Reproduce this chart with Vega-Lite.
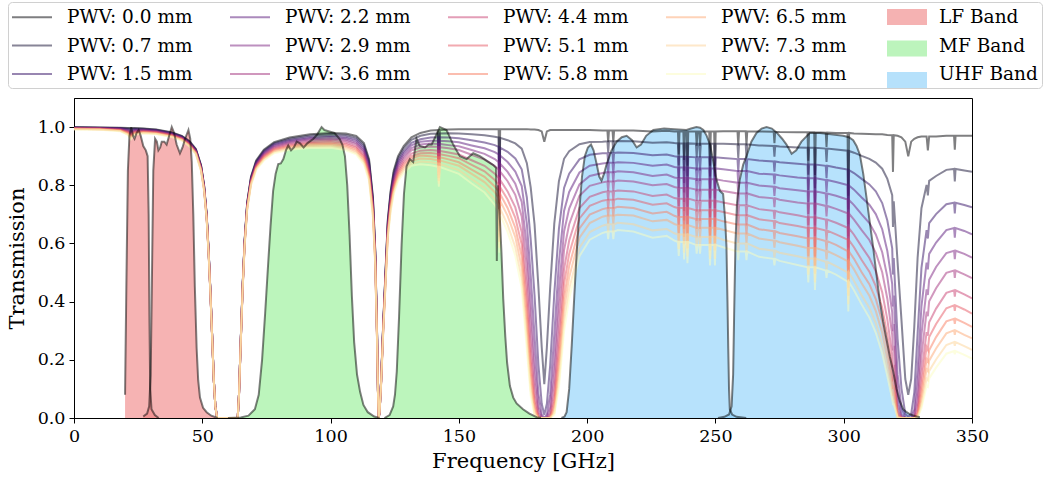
{
"$schema": "https://vega.github.io/schema/vega-lite/v6.json",
"width": 898, "height": 320,
"autosize": "none",
"padding": {"left": 74, "top": 98, "right": 71, "bottom": 62},
"config": {
  "view": {"stroke": "#000", "strokeWidth": 1},
  "font": "DejaVu Serif",
  "axis": {"labelFont": "DejaVu Serif", "titleFont": "DejaVu Serif", "labelFontSize": 17.5, "titleFontSize": 21, "titleFontWeight": "normal", "labelColor": "#000", "titleColor": "#000", "domainColor": "#000", "tickColor": "#000", "tickSize": 5, "grid": false, "labelPadding": 4, "labelFlush": false}
},
"datasets": {
"atm": [
{"f":0,"a":1,"b":0.999,"c":0.999,"d":0.998,"e":0.997,"g":0.996,"h":0.996,"i":0.995,"j":0.994,"k":0.994,"l":0.993,"m":0.992},
{"f":10,"a":0.999,"b":0.998,"c":0.998,"d":0.997,"e":0.996,"g":0.995,"h":0.995,"i":0.994,"j":0.993,"k":0.993,"l":0.992,"m":0.991},
{"f":18,"a":0.998,"b":0.997,"c":0.996,"d":0.995,"e":0.994,"g":0.993,"h":0.991,"i":0.99,"j":0.989,"k":0.988,"l":0.987,"m":0.986},
{"f":21,"a":0.997,"b":0.995,"c":0.993,"d":0.99,"e":0.988,"g":0.986,"h":0.984,"i":0.982,"j":0.98,"k":0.978,"l":0.975,"m":0.973},
{"f":22.2,"a":0.997,"b":0.994,"c":0.99,"d":0.986,"e":0.983,"g":0.979,"h":0.975,"i":0.972,"j":0.968,"k":0.965,"l":0.961,"m":0.957},
{"f":23.5,"a":0.997,"b":0.995,"c":0.993,"d":0.99,"e":0.988,"g":0.986,"h":0.984,"i":0.982,"j":0.98,"k":0.978,"l":0.975,"m":0.973},
{"f":27,"a":0.995,"b":0.994,"c":0.992,"d":0.991,"e":0.989,"g":0.988,"h":0.986,"i":0.985,"j":0.983,"k":0.982,"l":0.98,"m":0.979},
{"f":32,"a":0.992,"b":0.991,"c":0.989,"d":0.988,"e":0.986,"g":0.985,"h":0.983,"i":0.982,"j":0.98,"k":0.979,"l":0.977,"m":0.976},
{"f":38,"a":0.982,"b":0.981,"c":0.979,"d":0.978,"e":0.976,"g":0.975,"h":0.973,"i":0.972,"j":0.971,"k":0.969,"l":0.968,"m":0.966},
{"f":42,"a":0.97,"b":0.969,"c":0.967,"d":0.966,"e":0.964,"g":0.963,"h":0.961,"i":0.96,"j":0.959,"k":0.957,"l":0.956,"m":0.954},
{"f":45,"a":0.952,"b":0.95,"c":0.948,"d":0.947,"e":0.945,"g":0.943,"h":0.942,"i":0.94,"j":0.938,"k":0.937,"l":0.935,"m":0.933},
{"f":47.5,"a":0.925,"b":0.923,"c":0.922,"d":0.92,"e":0.918,"g":0.917,"h":0.915,"i":0.913,"j":0.912,"k":0.91,"l":0.908,"m":0.907},
{"f":49.5,"a":0.87,"b":0.868,"c":0.866,"d":0.864,"e":0.862,"g":0.861,"h":0.859,"i":0.857,"j":0.855,"k":0.853,"l":0.851,"m":0.849},
{"f":50.7,"a":0.8,"b":0.798,"c":0.796,"d":0.795,"e":0.793,"g":0.791,"h":0.789,"i":0.788,"j":0.786,"k":0.784,"l":0.782,"m":0.781},
{"f":51.7,"a":0.7,"b":0.699,"c":0.697,"d":0.695,"e":0.694,"g":0.692,"h":0.691,"i":0.689,"j":0.688,"k":0.686,"l":0.685,"m":0.683},
{"f":52.5,"a":0.57,"b":0.569,"c":0.567,"d":0.566,"e":0.565,"g":0.564,"h":0.562,"i":0.561,"j":0.56,"k":0.559,"l":0.558,"m":0.556},
{"f":53.2,"a":0.43,"b":0.429,"c":0.428,"d":0.427,"e":0.426,"g":0.425,"h":0.424,"i":0.423,"j":0.422,"k":0.422,"l":0.421,"m":0.42},
{"f":53.9,"a":0.27,"b":0.269,"c":0.269,"d":0.268,"e":0.268,"g":0.267,"h":0.266,"i":0.266,"j":0.265,"k":0.265,"l":0.264,"m":0.264},
{"f":54.5,"a":0.13,"b":0.13,"c":0.129,"d":0.129,"e":0.129,"g":0.129,"h":0.128,"i":0.128,"j":0.128,"k":0.127,"l":0.127,"m":0.127},
{"f":55.1,"a":0.04,"b":0.04,"c":0.04,"d":0.04,"e":0.04,"g":0.04,"h":0.039,"i":0.039,"j":0.039,"k":0.039,"l":0.039,"m":0.039},
{"f":55.8,"a":0,"b":0,"c":0,"d":0,"e":0,"g":0,"h":0,"i":0,"j":0,"k":0,"l":0,"m":0},
{"f":63.8,"a":0,"b":0,"c":0,"d":0,"e":0,"g":0,"h":0,"i":0,"j":0,"k":0,"l":0,"m":0},
{"f":64.3,"a":0.08,"b":0.08,"c":0.08,"d":0.079,"e":0.079,"g":0.079,"h":0.079,"i":0.078,"j":0.078,"k":0.078,"l":0.078,"m":0.077},
{"f":65,"a":0.27,"b":0.269,"c":0.268,"d":0.268,"e":0.267,"g":0.266,"h":0.265,"i":0.264,"j":0.264,"k":0.263,"l":0.262,"m":0.261},
{"f":65.7,"a":0.45,"b":0.449,"c":0.447,"d":0.446,"e":0.445,"g":0.444,"h":0.442,"i":0.441,"j":0.44,"k":0.438,"l":0.437,"m":0.436},
{"f":66.5,"a":0.61,"b":0.608,"c":0.606,"d":0.605,"e":0.603,"g":0.601,"h":0.599,"i":0.598,"j":0.596,"k":0.594,"l":0.592,"m":0.59},
{"f":67.5,"a":0.74,"b":0.738,"c":0.736,"d":0.733,"e":0.731,"g":0.729,"h":0.727,"i":0.725,"j":0.723,"k":0.721,"l":0.718,"m":0.716},
{"f":69,"a":0.83,"b":0.827,"c":0.824,"d":0.822,"e":0.819,"g":0.817,"h":0.814,"i":0.811,"j":0.809,"k":0.806,"l":0.803,"m":0.8},
{"f":71,"a":0.885,"b":0.882,"c":0.879,"d":0.876,"e":0.873,"g":0.871,"h":0.867,"i":0.865,"j":0.862,"k":0.859,"l":0.856,"m":0.853},
{"f":74,"a":0.922,"b":0.919,"c":0.915,"d":0.912,"e":0.909,"g":0.905,"h":0.902,"i":0.899,"j":0.895,"k":0.892,"l":0.888,"m":0.885},
{"f":78,"a":0.948,"b":0.945,"c":0.941,"d":0.938,"e":0.934,"g":0.931,"h":0.927,"i":0.924,"j":0.921,"k":0.917,"l":0.914,"m":0.91},
{"f":84,"a":0.964,"b":0.96,"c":0.956,"d":0.952,"e":0.949,"g":0.945,"h":0.941,"i":0.937,"j":0.933,"k":0.93,"l":0.925,"m":0.922},
{"f":92,"a":0.975,"b":0.971,"c":0.966,"d":0.962,"e":0.958,"g":0.954,"h":0.949,"i":0.945,"j":0.941,"k":0.937,"l":0.932,"m":0.928},
{"f":100,"a":0.98,"b":0.976,"c":0.97,"d":0.966,"e":0.961,"g":0.957,"h":0.952,"i":0.947,"j":0.943,"k":0.938,"l":0.933,"m":0.929},
{"f":106,"a":0.978,"b":0.973,"c":0.967,"d":0.962,"e":0.957,"g":0.952,"h":0.946,"i":0.941,"j":0.936,"k":0.931,"l":0.925,"m":0.92},
{"f":110,"a":0.97,"b":0.964,"c":0.958,"d":0.952,"e":0.946,"g":0.941,"h":0.934,"i":0.929,"j":0.923,"k":0.917,"l":0.911,"m":0.906},
{"f":113,"a":0.945,"b":0.938,"c":0.931,"d":0.924,"e":0.918,"g":0.912,"h":0.904,"i":0.898,"j":0.892,"k":0.885,"l":0.879,"m":0.872},
{"f":115,"a":0.89,"b":0.883,"c":0.876,"d":0.869,"e":0.862,"g":0.855,"h":0.848,"i":0.841,"j":0.835,"k":0.829,"l":0.821,"m":0.815},
{"f":116.5,"a":0.76,"b":0.754,"c":0.746,"d":0.74,"e":0.734,"g":0.728,"h":0.721,"i":0.715,"j":0.709,"k":0.703,"l":0.696,"m":0.69},
{"f":117.4,"a":0.58,"b":0.575,"c":0.57,"d":0.565,"e":0.56,"g":0.556,"h":0.55,"i":0.546,"j":0.541,"k":0.537,"l":0.531,"m":0.527},
{"f":118.1,"a":0.3,"b":0.298,"c":0.295,"d":0.292,"e":0.29,"g":0.287,"h":0.285,"i":0.282,"j":0.28,"k":0.277,"l":0.275,"m":0.272},
{"f":118.5,"a":0.08,"b":0.079,"c":0.079,"d":0.078,"e":0.077,"g":0.077,"h":0.076,"i":0.075,"j":0.075,"k":0.074,"l":0.073,"m":0.073},
{"f":118.75,"a":0,"b":0,"c":0,"d":0,"e":0,"g":0,"h":0,"i":0,"j":0,"k":0,"l":0,"m":0},
{"f":119.1,"a":0.02,"b":0.02,"c":0.02,"d":0.02,"e":0.02,"g":0.02,"h":0.02,"i":0.02,"j":0.02,"k":0.02,"l":0.02,"m":0.02},
{"f":119.7,"a":0.13,"b":0.129,"c":0.128,"d":0.127,"e":0.126,"g":0.125,"h":0.123,"i":0.122,"j":0.121,"k":0.12,"l":0.119,"m":0.118},
{"f":120.5,"a":0.32,"b":0.317,"c":0.314,"d":0.312,"e":0.309,"g":0.307,"h":0.304,"i":0.301,"j":0.299,"k":0.296,"l":0.293,"m":0.291},
{"f":121.3,"a":0.48,"b":0.476,"c":0.471,"d":0.468,"e":0.464,"g":0.46,"h":0.456,"i":0.452,"j":0.448,"k":0.444,"l":0.44,"m":0.436},
{"f":122.3,"a":0.68,"b":0.674,"c":0.668,"d":0.662,"e":0.657,"g":0.651,"h":0.645,"i":0.64,"j":0.634,"k":0.629,"l":0.623,"m":0.617},
{"f":123.4,"a":0.78,"b":0.774,"c":0.766,"d":0.76,"e":0.753,"g":0.747,"h":0.74,"i":0.734,"j":0.728,"k":0.722,"l":0.715,"m":0.708},
{"f":124.6,"a":0.85,"b":0.843,"c":0.834,"d":0.827,"e":0.82,"g":0.813,"h":0.804,"i":0.797,"j":0.791,"k":0.784,"l":0.776,"m":0.769},
{"f":126.3,"a":0.9,"b":0.892,"c":0.883,"d":0.876,"e":0.868,"g":0.86,"h":0.851,"i":0.844,"j":0.837,"k":0.83,"l":0.822,"m":0.815},
{"f":128.5,"a":0.935,"b":0.927,"c":0.917,"d":0.909,"e":0.9,"g":0.892,"h":0.883,"i":0.875,"j":0.867,"k":0.859,"l":0.851,"m":0.842},
{"f":131.5,"a":0.965,"b":0.956,"c":0.946,"d":0.937,"e":0.928,"g":0.92,"h":0.909,"i":0.9,"j":0.893,"k":0.884,"l":0.874,"m":0.867},
{"f":135,"a":0.98,"b":0.97,"c":0.958,"d":0.95,"e":0.94,"g":0.93,"h":0.919,"i":0.91,"j":0.902,"k":0.892,"l":0.882,"m":0.872},
{"f":139,"a":0.988,"b":0.977,"c":0.964,"d":0.953,"e":0.944,"g":0.933,"h":0.921,"i":0.911,"j":0.9,"k":0.89,"l":0.879,"m":0.869},
{"f":141.8,"a":0.99,"b":0.978,"c":0.965,"d":0.953,"e":0.942,"g":0.932,"h":0.919,"i":0.908,"j":0.897,"k":0.886,"l":0.875,"m":0.864},
{"f":142.2,"a":0.911,"b":0.9,"c":0.888,"d":0.877,"e":0.867,"g":0.857,"h":0.845,"i":0.835,"j":0.825,"k":0.815,"l":0.805,"m":0.795},
{"f":142.6,"a":0.99,"b":0.978,"c":0.965,"d":0.953,"e":0.942,"g":0.931,"h":0.918,"i":0.907,"j":0.896,"k":0.885,"l":0.874,"m":0.863},
{"f":146,"a":0.992,"b":0.979,"c":0.964,"d":0.951,"e":0.938,"g":0.927,"h":0.913,"i":0.901,"j":0.889,"k":0.877,"l":0.863,"m":0.852},
{"f":150,"a":0.993,"b":0.978,"c":0.962,"d":0.948,"e":0.934,"g":0.921,"h":0.906,"i":0.893,"j":0.879,"k":0.867,"l":0.852,"m":0.839},
{"f":155,"a":0.993,"b":0.975,"c":0.955,"d":0.937,"e":0.921,"g":0.905,"h":0.886,"i":0.87,"j":0.854,"k":0.839,"l":0.821,"m":0.806},
{"f":160,"a":0.993,"b":0.972,"c":0.947,"d":0.927,"e":0.908,"g":0.888,"h":0.867,"i":0.848,"j":0.829,"k":0.811,"l":0.791,"m":0.775},
{"f":164,"a":0.993,"b":0.967,"c":0.938,"d":0.914,"e":0.89,"g":0.866,"h":0.84,"i":0.818,"j":0.796,"k":0.776,"l":0.753,"m":0.733},
{"f":165.5,"a":0.993,"b":0.964,"c":0.932,"d":0.906,"e":0.879,"g":0.854,"h":0.825,"i":0.801,"j":0.779,"k":0.756,"l":0.731,"m":0.71},
{"f":165.8,"a":0.794,"b":0.771,"c":0.746,"d":0.725,"e":0.703,"g":0.683,"h":0.66,"i":0.641,"j":0.623,"k":0.605,"l":0.585,"m":0.568},
{"f":166.1,"a":0.993,"b":0.963,"c":0.929,"d":0.902,"e":0.874,"g":0.847,"h":0.818,"i":0.793,"j":0.77,"k":0.746,"l":0.72,"m":0.698},
{"f":169,"a":0.993,"b":0.955,"c":0.915,"d":0.88,"e":0.846,"g":0.814,"h":0.779,"i":0.751,"j":0.722,"k":0.695,"l":0.664,"m":0.64},
{"f":172,"a":0.993,"b":0.944,"c":0.892,"d":0.847,"e":0.805,"g":0.767,"h":0.724,"i":0.688,"j":0.654,"k":0.622,"l":0.587,"m":0.558},
{"f":174.5,"a":0.993,"b":0.926,"c":0.855,"d":0.797,"e":0.743,"g":0.693,"h":0.639,"i":0.596,"j":0.556,"k":0.518,"l":0.479,"m":0.446},
{"f":176.5,"a":0.993,"b":0.876,"c":0.758,"d":0.668,"e":0.589,"g":0.519,"h":0.45,"i":0.396,"j":0.35,"k":0.308,"l":0.267,"m":0.235},
{"f":178,"a":0.992,"b":0.793,"c":0.614,"d":0.491,"e":0.392,"g":0.314,"h":0.243,"i":0.194,"j":0.155,"k":0.124,"l":0.096,"m":0.076},
{"f":179.5,"a":0.992,"b":0.666,"c":0.422,"d":0.283,"e":0.19,"g":0.128,"h":0.08,"i":0.055,"j":0.037,"k":0.025,"l":0.015,"m":0.01},
{"f":181,"a":0.99,"b":0.452,"c":0.184,"d":0.084,"e":0.039,"g":0.018,"h":0.007,"i":0.003,"j":0.001,"k":0.001,"l":0,"m":0},
{"f":182.3,"a":0.985,"b":0.243,"c":0.049,"d":0.012,"e":0.003,"g":0.001,"h":0,"i":0,"j":0,"k":0,"l":0,"m":0},
{"f":183.3,"a":0.95,"b":0.116,"c":0.011,"d":0.001,"e":0,"g":0,"h":0,"i":0,"j":0,"k":0,"l":0,"m":0},
{"f":184.3,"a":0.985,"b":0.243,"c":0.049,"d":0.012,"e":0.003,"g":0.001,"h":0,"i":0,"j":0,"k":0,"l":0,"m":0},
{"f":185.6,"a":0.99,"b":0.449,"c":0.182,"d":0.082,"e":0.037,"g":0.017,"h":0.007,"i":0.003,"j":0.001,"k":0.001,"l":0,"m":0},
{"f":187.2,"a":0.99,"b":0.669,"c":0.428,"d":0.289,"e":0.195,"g":0.132,"h":0.084,"i":0.057,"j":0.039,"k":0.026,"l":0.017,"m":0.011},
{"f":189,"a":0.99,"b":0.814,"c":0.65,"d":0.535,"e":0.44,"g":0.361,"h":0.289,"i":0.238,"j":0.195,"k":0.16,"l":0.128,"m":0.105},
{"f":191,"a":0.99,"b":0.891,"c":0.791,"d":0.712,"e":0.641,"g":0.577,"h":0.512,"i":0.461,"j":0.414,"k":0.374,"l":0.331,"m":0.298},
{"f":193,"a":0.99,"b":0.917,"c":0.84,"d":0.777,"e":0.72,"g":0.666,"h":0.61,"i":0.565,"j":0.523,"k":0.484,"l":0.444,"m":0.411},
{"f":197,"a":0.99,"b":0.941,"c":0.889,"d":0.844,"e":0.803,"g":0.764,"h":0.722,"i":0.686,"j":0.652,"k":0.62,"l":0.585,"m":0.556},
{"f":201,"a":0.99,"b":0.949,"c":0.905,"d":0.867,"e":0.832,"g":0.798,"h":0.76,"i":0.729,"j":0.699,"k":0.67,"l":0.639,"m":0.613},
{"f":206,"a":0.988,"b":0.95,"c":0.91,"d":0.875,"e":0.842,"g":0.81,"h":0.776,"i":0.747,"j":0.718,"k":0.692,"l":0.661,"m":0.636},
{"f":207.9,"a":0.988,"b":0.951,"c":0.911,"d":0.877,"e":0.845,"g":0.813,"h":0.779,"i":0.75,"j":0.722,"k":0.696,"l":0.666,"m":0.641},
{"f":208.2,"a":0.948,"b":0.913,"c":0.875,"d":0.842,"e":0.811,"g":0.78,"h":0.748,"i":0.72,"j":0.693,"k":0.668,"l":0.639,"m":0.615},
{"f":208.5,"a":0.988,"b":0.951,"c":0.911,"d":0.877,"e":0.845,"g":0.813,"h":0.779,"i":0.75,"j":0.722,"k":0.696,"l":0.666,"m":0.641},
{"f":209.9,"a":0.988,"b":0.951,"c":0.911,"d":0.877,"e":0.845,"g":0.813,"h":0.779,"i":0.75,"j":0.722,"k":0.696,"l":0.666,"m":0.641},
{"f":210.2,"a":0.948,"b":0.913,"c":0.875,"d":0.842,"e":0.811,"g":0.78,"h":0.748,"i":0.72,"j":0.693,"k":0.668,"l":0.639,"m":0.615},
{"f":210.5,"a":0.988,"b":0.951,"c":0.911,"d":0.877,"e":0.845,"g":0.813,"h":0.779,"i":0.75,"j":0.722,"k":0.696,"l":0.666,"m":0.641},
{"f":212,"a":0.988,"b":0.952,"c":0.913,"d":0.879,"e":0.848,"g":0.816,"h":0.782,"i":0.754,"j":0.726,"k":0.699,"l":0.671,"m":0.646},
{"f":218,"a":0.988,"b":0.951,"c":0.911,"d":0.877,"e":0.845,"g":0.813,"h":0.779,"i":0.75,"j":0.722,"k":0.696,"l":0.666,"m":0.641},
{"f":225.5,"a":0.985,"b":0.946,"c":0.903,"d":0.867,"e":0.832,"g":0.8,"h":0.763,"i":0.733,"j":0.703,"k":0.676,"l":0.645,"m":0.62},
{"f":231,"a":0.987,"b":0.948,"c":0.906,"d":0.871,"e":0.837,"g":0.804,"h":0.768,"i":0.738,"j":0.709,"k":0.681,"l":0.65,"m":0.626},
{"f":234,"a":0.985,"b":0.945,"c":0.9,"d":0.863,"e":0.827,"g":0.794,"h":0.756,"i":0.725,"j":0.695,"k":0.667,"l":0.635,"m":0.61},
{"f":235.4,"a":0.985,"b":0.944,"c":0.898,"d":0.861,"e":0.825,"g":0.791,"h":0.754,"i":0.722,"j":0.691,"k":0.663,"l":0.631,"m":0.605},
{"f":235.7,"a":0.906,"b":0.868,"c":0.826,"d":0.792,"e":0.759,"g":0.728,"h":0.694,"i":0.664,"j":0.636,"k":0.61,"l":0.581,"m":0.557},
{"f":236,"a":0.985,"b":0.944,"c":0.898,"d":0.861,"e":0.825,"g":0.791,"h":0.754,"i":0.722,"j":0.691,"k":0.663,"l":0.631,"m":0.605},
{"f":237.5,"a":0.985,"b":0.944,"c":0.898,"d":0.861,"e":0.825,"g":0.791,"h":0.754,"i":0.722,"j":0.691,"k":0.663,"l":0.631,"m":0.605},
{"f":237.8,"a":0.887,"b":0.85,"c":0.808,"d":0.775,"e":0.743,"g":0.712,"h":0.679,"i":0.65,"j":0.622,"k":0.597,"l":0.568,"m":0.545},
{"f":238.1,"a":0.985,"b":0.944,"c":0.898,"d":0.861,"e":0.825,"g":0.791,"h":0.754,"i":0.722,"j":0.691,"k":0.663,"l":0.631,"m":0.605},
{"f":238.8,"a":0.985,"b":0.944,"c":0.898,"d":0.861,"e":0.825,"g":0.791,"h":0.754,"i":0.722,"j":0.691,"k":0.663,"l":0.631,"m":0.605},
{"f":239.1,"a":0.867,"b":0.831,"c":0.79,"d":0.758,"e":0.726,"g":0.696,"h":0.664,"i":0.635,"j":0.608,"k":0.583,"l":0.555,"m":0.532},
{"f":239.4,"a":0.985,"b":0.944,"c":0.898,"d":0.861,"e":0.825,"g":0.791,"h":0.754,"i":0.722,"j":0.691,"k":0.663,"l":0.631,"m":0.605},
{"f":242.4,"a":0.985,"b":0.943,"c":0.896,"d":0.858,"e":0.821,"g":0.785,"h":0.747,"i":0.714,"j":0.684,"k":0.654,"l":0.622,"m":0.595},
{"f":242.7,"a":0.936,"b":0.896,"c":0.851,"d":0.815,"e":0.78,"g":0.746,"h":0.71,"i":0.678,"j":0.65,"k":0.621,"l":0.591,"m":0.565},
{"f":243,"a":0.985,"b":0.943,"c":0.896,"d":0.858,"e":0.821,"g":0.785,"h":0.747,"i":0.714,"j":0.684,"k":0.654,"l":0.622,"m":0.595},
{"f":243.7,"a":0.985,"b":0.943,"c":0.896,"d":0.858,"e":0.821,"g":0.785,"h":0.747,"i":0.714,"j":0.684,"k":0.654,"l":0.622,"m":0.595},
{"f":244,"a":0.936,"b":0.896,"c":0.851,"d":0.815,"e":0.78,"g":0.746,"h":0.71,"i":0.678,"j":0.65,"k":0.621,"l":0.591,"m":0.565},
{"f":244.3,"a":0.985,"b":0.943,"c":0.896,"d":0.858,"e":0.821,"g":0.785,"h":0.747,"i":0.714,"j":0.684,"k":0.654,"l":0.622,"m":0.595},
{"f":247.6,"a":0.985,"b":0.943,"c":0.896,"d":0.858,"e":0.821,"g":0.785,"h":0.747,"i":0.714,"j":0.684,"k":0.654,"l":0.622,"m":0.595},
{"f":247.9,"a":0.867,"b":0.83,"c":0.788,"d":0.755,"e":0.722,"g":0.691,"h":0.657,"i":0.628,"j":0.602,"k":0.576,"l":0.547,"m":0.524},
{"f":248.2,"a":0.985,"b":0.943,"c":0.896,"d":0.858,"e":0.821,"g":0.785,"h":0.747,"i":0.714,"j":0.684,"k":0.654,"l":0.622,"m":0.595},
{"f":249.5,"a":0.985,"b":0.943,"c":0.896,"d":0.858,"e":0.821,"g":0.785,"h":0.747,"i":0.714,"j":0.684,"k":0.654,"l":0.622,"m":0.595},
{"f":249.8,"a":0.867,"b":0.83,"c":0.788,"d":0.755,"e":0.722,"g":0.691,"h":0.657,"i":0.628,"j":0.602,"k":0.576,"l":0.547,"m":0.524},
{"f":250.1,"a":0.985,"b":0.943,"c":0.896,"d":0.858,"e":0.821,"g":0.785,"h":0.747,"i":0.714,"j":0.684,"k":0.654,"l":0.622,"m":0.595},
{"f":253,"a":0.986,"b":0.943,"c":0.894,"d":0.855,"e":0.816,"g":0.78,"h":0.741,"i":0.708,"j":0.676,"k":0.647,"l":0.613,"m":0.587},
{"f":258.6,"a":0.986,"b":0.941,"c":0.89,"d":0.849,"e":0.809,"g":0.772,"h":0.731,"i":0.697,"j":0.665,"k":0.634,"l":0.6,"m":0.572},
{"f":258.9,"a":0.937,"b":0.894,"c":0.846,"d":0.806,"e":0.769,"g":0.733,"h":0.695,"i":0.662,"j":0.631,"k":0.602,"l":0.57,"m":0.543},
{"f":259.2,"a":0.986,"b":0.941,"c":0.89,"d":0.849,"e":0.809,"g":0.772,"h":0.731,"i":0.697,"j":0.665,"k":0.634,"l":0.6,"m":0.572},
{"f":261.8,"a":0.986,"b":0.941,"c":0.89,"d":0.849,"e":0.809,"g":0.772,"h":0.731,"i":0.697,"j":0.665,"k":0.634,"l":0.6,"m":0.572},
{"f":262.1,"a":0.937,"b":0.894,"c":0.846,"d":0.806,"e":0.769,"g":0.733,"h":0.695,"i":0.662,"j":0.631,"k":0.602,"l":0.57,"m":0.543},
{"f":262.4,"a":0.986,"b":0.941,"c":0.89,"d":0.849,"e":0.809,"g":0.772,"h":0.731,"i":0.697,"j":0.665,"k":0.634,"l":0.6,"m":0.572},
{"f":267,"a":0.985,"b":0.937,"c":0.885,"d":0.84,"e":0.799,"g":0.76,"h":0.718,"i":0.683,"j":0.649,"k":0.617,"l":0.582,"m":0.554},
{"f":272.7,"a":0.984,"b":0.935,"c":0.882,"d":0.837,"e":0.795,"g":0.755,"h":0.712,"i":0.677,"j":0.642,"k":0.61,"l":0.575,"m":0.547},
{"f":273,"a":0.945,"b":0.898,"c":0.847,"d":0.804,"e":0.763,"g":0.725,"h":0.684,"i":0.65,"j":0.616,"k":0.586,"l":0.552,"m":0.525},
{"f":273.3,"a":0.984,"b":0.935,"c":0.882,"d":0.837,"e":0.795,"g":0.755,"h":0.712,"i":0.677,"j":0.642,"k":0.61,"l":0.575,"m":0.547},
{"f":275,"a":0.983,"b":0.933,"c":0.879,"d":0.834,"e":0.79,"g":0.75,"h":0.707,"i":0.67,"j":0.636,"k":0.604,"l":0.568,"m":0.54},
{"f":282,"a":0.982,"b":0.93,"c":0.874,"d":0.827,"e":0.783,"g":0.741,"h":0.697,"i":0.66,"j":0.625,"k":0.592,"l":0.556,"m":0.526},
{"f":285.9,"a":0.982,"b":0.929,"c":0.871,"d":0.824,"e":0.779,"g":0.737,"h":0.69,"i":0.653,"j":0.618,"k":0.584,"l":0.548,"m":0.518},
{"f":286.2,"a":0.884,"b":0.836,"c":0.784,"d":0.742,"e":0.701,"g":0.663,"h":0.621,"i":0.588,"j":0.556,"k":0.526,"l":0.493,"m":0.466},
{"f":286.5,"a":0.982,"b":0.929,"c":0.871,"d":0.824,"e":0.779,"g":0.737,"h":0.69,"i":0.653,"j":0.618,"k":0.584,"l":0.548,"m":0.518},
{"f":288.5,"a":0.982,"b":0.929,"c":0.871,"d":0.824,"e":0.779,"g":0.737,"h":0.69,"i":0.653,"j":0.618,"k":0.584,"l":0.548,"m":0.518},
{"f":288.8,"a":0.835,"b":0.79,"c":0.74,"d":0.7,"e":0.662,"g":0.626,"h":0.587,"i":0.555,"j":0.525,"k":0.496,"l":0.466,"m":0.44},
{"f":289.1,"a":0.982,"b":0.929,"c":0.871,"d":0.824,"e":0.779,"g":0.737,"h":0.69,"i":0.653,"j":0.618,"k":0.584,"l":0.548,"m":0.518},
{"f":293,"a":0.981,"b":0.926,"c":0.867,"d":0.818,"e":0.772,"g":0.729,"h":0.682,"i":0.644,"j":0.608,"k":0.574,"l":0.537,"m":0.507},
{"f":293.3,"a":0.932,"b":0.88,"c":0.824,"d":0.777,"e":0.733,"g":0.693,"h":0.648,"i":0.612,"j":0.578,"k":0.545,"l":0.51,"m":0.482},
{"f":293.6,"a":0.981,"b":0.926,"c":0.867,"d":0.818,"e":0.772,"g":0.729,"h":0.682,"i":0.644,"j":0.608,"k":0.574,"l":0.537,"m":0.507},
{"f":297,"a":0.98,"b":0.923,"c":0.861,"d":0.811,"e":0.764,"g":0.719,"h":0.671,"i":0.631,"j":0.595,"k":0.56,"l":0.522,"m":0.493},
{"f":301.5,"a":0.98,"b":0.919,"c":0.854,"d":0.801,"e":0.751,"g":0.704,"h":0.654,"i":0.613,"j":0.574,"k":0.539,"l":0.501,"m":0.469},
{"f":301.8,"a":0.764,"b":0.717,"c":0.666,"d":0.625,"e":0.586,"g":0.549,"h":0.51,"i":0.478,"j":0.448,"k":0.42,"l":0.391,"m":0.366},
{"f":302.1,"a":0.98,"b":0.918,"c":0.852,"d":0.799,"e":0.749,"g":0.702,"h":0.652,"i":0.611,"j":0.572,"k":0.537,"l":0.499,"m":0.467},
{"f":304,"a":0.978,"b":0.912,"c":0.842,"d":0.785,"e":0.732,"g":0.682,"h":0.63,"i":0.587,"j":0.547,"k":0.511,"l":0.471,"m":0.439},
{"f":307,"a":0.977,"b":0.901,"c":0.822,"d":0.758,"e":0.7,"g":0.646,"h":0.589,"i":0.543,"j":0.501,"k":0.463,"l":0.422,"m":0.39},
{"f":310,"a":0.976,"b":0.891,"c":0.803,"d":0.733,"e":0.67,"g":0.612,"h":0.55,"i":0.503,"j":0.46,"k":0.42,"l":0.378,"m":0.345},
{"f":312.5,"a":0.975,"b":0.878,"c":0.779,"d":0.701,"e":0.631,"g":0.568,"h":0.504,"i":0.453,"j":0.409,"k":0.368,"l":0.326,"m":0.293},
{"f":315,"a":0.975,"b":0.857,"c":0.739,"d":0.649,"e":0.57,"g":0.501,"h":0.432,"i":0.379,"j":0.333,"k":0.293,"l":0.253,"m":0.222},
{"f":317,"a":0.973,"b":0.822,"c":0.679,"d":0.574,"e":0.485,"g":0.41,"h":0.339,"i":0.286,"j":0.242,"k":0.204,"l":0.168,"m":0.143},
{"f":318.9,"a":0.972,"b":0.766,"c":0.583,"d":0.46,"e":0.363,"g":0.286,"h":0.218,"i":0.172,"j":0.135,"k":0.107,"l":0.082,"m":0.064},
{"f":319.2,"a":0.846,"b":0.657,"c":0.493,"d":0.383,"e":0.298,"g":0.232,"h":0.173,"i":0.135,"j":0.105,"k":0.081,"l":0.061,"m":0.047},
{"f":319.5,"a":0.972,"b":0.745,"c":0.55,"d":0.421,"e":0.323,"g":0.248,"h":0.183,"i":0.14,"j":0.107,"k":0.083,"l":0.06,"m":0.047},
{"f":321,"a":0.97,"b":0.535,"c":0.272,"d":0.149,"e":0.082,"g":0.046,"h":0.023,"i":0.013,"j":0.007,"k":0.004,"l":0.002,"m":0.001},
{"f":322.5,"a":0.965,"b":0.338,"c":0.102,"d":0.036,"e":0.012,"g":0.004,"h":0.001,"i":0,"j":0,"k":0,"l":0,"m":0},
{"f":324,"a":0.95,"b":0.134,"c":0.014,"d":0.002,"e":0,"g":0,"h":0,"i":0,"j":0,"k":0,"l":0,"m":0},
{"f":325.15,"a":0.9,"b":0.08,"c":0.005,"d":0,"e":0,"g":0,"h":0,"i":0,"j":0,"k":0,"l":0,"m":0},
{"f":326.3,"a":0.95,"b":0.134,"c":0.014,"d":0.002,"e":0,"g":0,"h":0,"i":0,"j":0,"k":0,"l":0,"m":0},
{"f":327.5,"a":0.96,"b":0.313,"c":0.087,"d":0.029,"e":0.009,"g":0.003,"h":0.001,"i":0,"j":0,"k":0,"l":0,"m":0},
{"f":328.8,"a":0.965,"b":0.551,"c":0.29,"d":0.166,"e":0.095,"g":0.054,"h":0.029,"i":0.016,"j":0.009,"k":0.005,"l":0.003,"m":0.002},
{"f":330.3,"a":0.968,"b":0.721,"c":0.516,"d":0.384,"e":0.287,"g":0.213,"h":0.153,"i":0.113,"j":0.085,"k":0.063,"l":0.045,"m":0.034},
{"f":332.3,"a":0.968,"b":0.801,"c":0.646,"d":0.534,"e":0.442,"g":0.366,"h":0.295,"i":0.244,"j":0.202,"k":0.167,"l":0.135,"m":0.111},
{"f":332.8,"a":0.92,"b":0.765,"c":0.617,"d":0.511,"e":0.423,"g":0.35,"h":0.283,"i":0.234,"j":0.194,"k":0.161,"l":0.13,"m":0.107},
{"f":333.3,"a":0.968,"b":0.815,"c":0.67,"d":0.564,"e":0.475,"g":0.401,"h":0.329,"i":0.278,"j":0.233,"k":0.197,"l":0.162,"m":0.136},
{"f":336,"a":0.968,"b":0.832,"c":0.701,"d":0.603,"e":0.519,"g":0.446,"h":0.376,"i":0.323,"j":0.278,"k":0.239,"l":0.201,"m":0.173},
{"f":340,"a":0.97,"b":0.853,"c":0.735,"d":0.646,"e":0.567,"g":0.499,"h":0.43,"i":0.377,"j":0.332,"k":0.291,"l":0.251,"m":0.221},
{"f":343,"a":0.97,"b":0.856,"c":0.74,"d":0.653,"e":0.575,"g":0.507,"h":0.439,"i":0.387,"j":0.341,"k":0.301,"l":0.261,"m":0.23},
{"f":343.3,"a":0.922,"b":0.813,"c":0.703,"d":0.62,"e":0.546,"g":0.482,"h":0.417,"i":0.368,"j":0.324,"k":0.286,"l":0.248,"m":0.219},
{"f":343.6,"a":0.97,"b":0.856,"c":0.74,"d":0.653,"e":0.575,"g":0.507,"h":0.439,"i":0.387,"j":0.341,"k":0.301,"l":0.261,"m":0.23},
{"f":347,"a":0.97,"b":0.851,"c":0.732,"d":0.643,"e":0.564,"g":0.494,"h":0.425,"i":0.373,"j":0.327,"k":0.286,"l":0.247,"m":0.217},
{"f":350,"a":0.97,"b":0.846,"c":0.724,"d":0.631,"e":0.551,"g":0.481,"h":0.411,"i":0.359,"j":0.313,"k":0.274,"l":0.234,"m":0.204}
],
"bands": [
{"s":"L1","f":19.9,"t":0.08},{"s":"L1","f":20.4,"t":0.45},{"s":"L1","f":21,"t":0.85},{"s":"L1","f":21.6,"t":0.97},{"s":"L1","f":22.3,"t":1.0},{"s":"L1","f":23,"t":0.97},{"s":"L1","f":23.6,"t":0.96},{"s":"L1","f":24.4,"t":0.98},{"s":"L1","f":25.2,"t":0.99},{"s":"L1","f":26,"t":0.97},{"s":"L1","f":27,"t":0.935},{"s":"L1","f":28,"t":0.92},{"s":"L1","f":28.7,"t":0.9},{"s":"L1","f":29.1,"t":0.7},{"s":"L1","f":29.4,"t":0.35},{"s":"L1","f":29.7,"t":0.1},{"s":"L1","f":30.2,"t":0.03},{"s":"L1","f":31.5,"t":0.01},{"s":"L1","f":33,"t":0},
{"s":"L2","f":27,"t":0.005},{"s":"L2","f":28.5,"t":0.015},{"s":"L2","f":29.3,"t":0.04},{"s":"L2","f":29.9,"t":0.15},{"s":"L2","f":30.4,"t":0.5},{"s":"L2","f":30.9,"t":0.85},{"s":"L2","f":31.6,"t":0.96},{"s":"L2","f":32.3,"t":0.95},{"s":"L2","f":32.9,"t":0.92},{"s":"L2","f":33.6,"t":0.93},{"s":"L2","f":34.2,"t":0.95},{"s":"L2","f":35.2,"t":0.95},{"s":"L2","f":36.1,"t":0.94},{"s":"L2","f":37.1,"t":0.97},{"s":"L2","f":38.1,"t":1.0},{"s":"L2","f":39,"t":0.98},{"s":"L2","f":40,"t":0.94},{"s":"L2","f":41.3,"t":0.91},{"s":"L2","f":42.3,"t":0.93},{"s":"L2","f":43.3,"t":0.96},{"s":"L2","f":44.6,"t":0.99},{"s":"L2","f":45.3,"t":0.96},{"s":"L2","f":45.9,"t":0.88},{"s":"L2","f":46.5,"t":0.7},{"s":"L2","f":47.1,"t":0.45},{"s":"L2","f":47.8,"t":0.24},{"s":"L2","f":48.4,"t":0.13},{"s":"L2","f":49.1,"t":0.07},{"s":"L2","f":50.3,"t":0.035},{"s":"L2","f":51.7,"t":0.02},{"s":"L2","f":53.5,"t":0.008},{"s":"L2","f":56,"t":0},
{"s":"M1","f":60,"t":0},{"s":"M1","f":65,"t":0.002},{"s":"M1","f":68,"t":0.008},{"s":"M1","f":70.5,"t":0.03},{"s":"M1","f":72,"t":0.08},{"s":"M1","f":73.3,"t":0.2},{"s":"M1","f":74.5,"t":0.36},{"s":"M1","f":75.6,"t":0.52},{"s":"M1","f":76.6,"t":0.66},{"s":"M1","f":77.6,"t":0.78},{"s":"M1","f":78.6,"t":0.84},{"s":"M1","f":79.6,"t":0.873},{"s":"M1","f":80.6,"t":0.875},{"s":"M1","f":81.6,"t":0.89},{"s":"M1","f":82.6,"t":0.92},{"s":"M1","f":83.5,"t":0.937},{"s":"M1","f":84.6,"t":0.92},{"s":"M1","f":85.7,"t":0.93},{"s":"M1","f":86.8,"t":0.95},{"s":"M1","f":88,"t":0.945},{"s":"M1","f":89.5,"t":0.93},{"s":"M1","f":91,"t":0.945},{"s":"M1","f":93.3,"t":0.96},{"s":"M1","f":94.8,"t":0.975},{"s":"M1","f":96.5,"t":1.0},{"s":"M1","f":97.6,"t":0.99},{"s":"M1","f":99.5,"t":0.985},{"s":"M1","f":101.5,"t":0.98},{"s":"M1","f":103.5,"t":0.96},{"s":"M1","f":104.6,"t":0.94},{"s":"M1","f":105.6,"t":0.9},{"s":"M1","f":106.5,"t":0.8},{"s":"M1","f":107.4,"t":0.63},{"s":"M1","f":108.3,"t":0.42},{"s":"M1","f":109.2,"t":0.26},{"s":"M1","f":110.3,"t":0.15},{"s":"M1","f":111.5,"t":0.09},{"s":"M1","f":112.8,"t":0.045},{"s":"M1","f":114.5,"t":0.02},{"s":"M1","f":117,"t":0.005},{"s":"M1","f":119,"t":0},
{"s":"M2","f":121,"t":0},{"s":"M2","f":123,"t":0.01},{"s":"M2","f":124.4,"t":0.04},{"s":"M2","f":125.1,"t":0.08},{"s":"M2","f":125.8,"t":0.16},{"s":"M2","f":126.7,"t":0.35},{"s":"M2","f":127.7,"t":0.6},{"s":"M2","f":128.6,"t":0.77},{"s":"M2","f":129.6,"t":0.865},{"s":"M2","f":130.9,"t":0.89},{"s":"M2","f":132.2,"t":0.88},{"s":"M2","f":133.5,"t":0.96},{"s":"M2","f":134.8,"t":0.935},{"s":"M2","f":136.8,"t":0.93},{"s":"M2","f":138.2,"t":0.94},{"s":"M2","f":139.4,"t":0.94},{"s":"M2","f":141,"t":0.97},{"s":"M2","f":142.6,"t":1.0},{"s":"M2","f":145.2,"t":0.99},{"s":"M2","f":147.8,"t":0.94},{"s":"M2","f":150.4,"t":0.9},{"s":"M2","f":153,"t":0.89},{"s":"M2","f":155.6,"t":0.91},{"s":"M2","f":158.2,"t":0.9},{"s":"M2","f":160.8,"t":0.885},{"s":"M2","f":163.4,"t":0.87},{"s":"M2","f":164.5,"t":0.86},{"s":"M2","f":164.8,"t":0.54},{"s":"M2","f":165.1,"t":0.8},{"s":"M2","f":165.8,"t":0.72},{"s":"M2","f":166.6,"t":0.57},{"s":"M2","f":167.3,"t":0.41},{"s":"M2","f":168.1,"t":0.28},{"s":"M2","f":168.8,"t":0.19},{"s":"M2","f":169.9,"t":0.11},{"s":"M2","f":171.2,"t":0.07},{"s":"M2","f":172.5,"t":0.05},{"s":"M2","f":175,"t":0.03},{"s":"M2","f":177.5,"t":0.015},{"s":"M2","f":180.3,"t":0.003},{"s":"M2","f":182,"t":0},
{"s":"U1","f":190,"t":0},{"s":"U1","f":191.2,"t":0.005},{"s":"U1","f":192,"t":0.02},{"s":"U1","f":193,"t":0.1},{"s":"U1","f":194,"t":0.25},{"s":"U1","f":195,"t":0.42},{"s":"U1","f":196,"t":0.58},{"s":"U1","f":197,"t":0.72},{"s":"U1","f":198,"t":0.83},{"s":"U1","f":199.1,"t":0.9},{"s":"U1","f":200.3,"t":0.93},{"s":"U1","f":201.5,"t":0.94},{"s":"U1","f":202.5,"t":0.92},{"s":"U1","f":203.7,"t":0.873},{"s":"U1","f":204.7,"t":0.83},{"s":"U1","f":205.6,"t":0.816},{"s":"U1","f":206.6,"t":0.84},{"s":"U1","f":207.6,"t":0.873},{"s":"U1","f":209.5,"t":0.92},{"s":"U1","f":211.5,"t":0.95},{"s":"U1","f":213.5,"t":0.965},{"s":"U1","f":215.4,"t":0.97},{"s":"U1","f":217.5,"t":0.955},{"s":"U1","f":219.3,"t":0.93},{"s":"U1","f":221,"t":0.94},{"s":"U1","f":223,"t":0.97},{"s":"U1","f":225.8,"t":0.99},{"s":"U1","f":230,"t":0.995},{"s":"U1","f":234,"t":0.993},{"s":"U1","f":238.7,"t":0.99},{"s":"U1","f":240.5,"t":0.995},{"s":"U1","f":242.6,"t":1.0},{"s":"U1","f":244,"t":0.998},{"s":"U1","f":245.3,"t":0.99},{"s":"U1","f":246.6,"t":0.97},{"s":"U1","f":247.9,"t":0.94},{"s":"U1","f":249.2,"t":0.88},{"s":"U1","f":250.5,"t":0.816},{"s":"U1","f":251.8,"t":0.78},{"s":"U1","f":253,"t":0.77},{"s":"U1","f":253.8,"t":0.68},{"s":"U1","f":254.3,"t":0.59},{"s":"U1","f":254.7,"t":0.4},{"s":"U1","f":255,"t":0.24},{"s":"U1","f":255.3,"t":0.1},{"s":"U1","f":255.6,"t":0.03},{"s":"U1","f":256.5,"t":0.012},{"s":"U1","f":258.2,"t":0.004},{"s":"U1","f":262,"t":0},
{"s":"U2","f":251,"t":0},{"s":"U2","f":253.5,"t":0.004},{"s":"U2","f":255.3,"t":0.012},{"s":"U2","f":256.3,"t":0.04},{"s":"U2","f":256.9,"t":0.15},{"s":"U2","f":257.3,"t":0.36},{"s":"U2","f":257.8,"t":0.6},{"s":"U2","f":258.4,"t":0.74},{"s":"U2","f":259.5,"t":0.82},{"s":"U2","f":260.8,"t":0.87},{"s":"U2","f":262.1,"t":0.9},{"s":"U2","f":264,"t":0.95},{"s":"U2","f":266,"t":0.98},{"s":"U2","f":268,"t":0.995},{"s":"U2","f":269.9,"t":1.0},{"s":"U2","f":272,"t":0.995},{"s":"U2","f":274,"t":0.98},{"s":"U2","f":276,"t":0.96},{"s":"U2","f":277.7,"t":0.94},{"s":"U2","f":279.7,"t":0.908},{"s":"U2","f":281.5,"t":0.92},{"s":"U2","f":283.5,"t":0.95},{"s":"U2","f":286.8,"t":0.98},{"s":"U2","f":290.7,"t":0.98},{"s":"U2","f":295,"t":0.975},{"s":"U2","f":299.8,"t":0.97},{"s":"U2","f":302,"t":0.965},{"s":"U2","f":303.7,"t":0.955},{"s":"U2","f":305,"t":0.935},{"s":"U2","f":306.3,"t":0.905},{"s":"U2","f":307.6,"t":0.84},{"s":"U2","f":308.9,"t":0.757},{"s":"U2","f":310.2,"t":0.67},{"s":"U2","f":311.5,"t":0.585},{"s":"U2","f":312.8,"t":0.49},{"s":"U2","f":314.1,"t":0.4},{"s":"U2","f":315.4,"t":0.33},{"s":"U2","f":316.7,"t":0.27},{"s":"U2","f":318,"t":0.21},{"s":"U2","f":319.3,"t":0.16},{"s":"U2","f":320.6,"t":0.1},{"s":"U2","f":321.9,"t":0.057},{"s":"U2","f":323.2,"t":0.03},{"s":"U2","f":324.5,"t":0.02},{"s":"U2","f":326,"t":0.012},{"s":"U2","f":328,"t":0.006},{"s":"U2","f":329.7,"t":0.003}
]
},
"encoding": {
  "x": {"field": "f", "type": "quantitative", "scale": {"domain": [0, 350], "nice": false}, "axis": {"title": "Frequency [GHz]", "values": [0, 50, 100, 150, 200, 250, 300, 350], "format": "d", "titlePadding": 6}},
  "y": {"field": "t", "type": "quantitative", "stack": null, "scale": {"domain": [0, 1.1], "nice": false}, "axis": {"title": "Transmission", "values": [0, 0.2, 0.4, 0.6, 0.8, 1.0], "format": ".1f", "titlePadding": 10}}
},
"layer": [
  {
    "data": {"name": "bands"},
    "mark": {"type": "area", "opacity": 0.6, "clip": true},
    "encoding": {
      "fill": {"field": "s", "type": "nominal",
        "scale": {"domain": ["L1","L2","M1","M2","U1","U2"], "range": ["#f08080","#f08080","#90ee90","#90ee90","#87cefa","#87cefa"]},
        "legend": {"orient": "none", "legendX": 809, "legendY": -96, "title": null, "direction": "vertical", "rowPadding": 7.5,
          "values": ["L1","M1","U1"],
          "labelExpr": "' '",
          "symbolType": "M-2,-0.8H2V0.8H-2Z", "symbolSize": 400, "symbolStrokeWidth": 2, "symbolStrokeColor": "transparent", "symbolOpacity": 0.6, "symbolOffset": 9, "labelOffset": 24,
          "labelFont": "DejaVu Serif", "labelFontSize": 18.5, "labelColor": "#000", "labelOpacity": 0,
          "fillColor": "transparent", "strokeColor": "transparent", "padding": 4}
      }
    }
  },
  {
    "data": {"name": "atm"},
    "transform": [{"fold": ["a","b","c","d","e","g","h","i","j","k","l","m"], "as": ["key", "t"]}],
    "mark": {"type": "line", "strokeWidth": 2, "opacity": 0.5, "clip": true},
    "encoding": {
      "color": {"field": "key", "type": "nominal",
        "scale": {"domain": ["a","b","c","d","e","g","h","i","j","k","l","m","L1","M1","U1"],
                  "range": ["#000004","#120d31","#340f65","#59177c","#7d2481","#a3317d","#c93f71","#e75764","#f97d61","#fea874","#fed396","#fcfdbf","transparent","transparent","transparent"]},
        "legend": {"orient": "none", "legendX": -66, "legendY": -96, "title": null, "columns": 5, "columnPadding": 33, "rowPadding": 7.5,
          "values": ["a","b","c","d","e","g","h","i","j","k","l","m","L1","M1","U1"],
          "labelExpr": "{'a':'PWV: 0.0 mm','b':'PWV: 0.7 mm','c':'PWV: 1.5 mm','d':'PWV: 2.2 mm','e':'PWV: 2.9 mm','g':'PWV: 3.6 mm','h':'PWV: 4.4 mm','i':'PWV: 5.1 mm','j':'PWV: 5.8 mm','k':'PWV: 6.5 mm','l':'PWV: 7.3 mm','m':'PWV: 8.0 mm','L1':'LF Band','M1':'MF Band','U1':'UHF Band'}[datum.label]",
          "symbolType": "M-2,0H2", "symbolSize": 400, "symbolStrokeWidth": 2, "symbolOpacity": 0.5, "symbolOffset": 9, "labelOffset": 24,
          "labelFont": "DejaVu Serif", "labelFontSize": 18.5, "labelColor": "#000",
          "fillColor": "transparent", "strokeColor": "#d0d0d0", "cornerRadius": 4, "padding": 4}
      }
    }
  },
  {
    "data": {"name": "bands"},
    "mark": {"type": "line", "color": "#000", "opacity": 0.5, "strokeWidth": 2, "clip": true},
    "encoding": {"detail": {"field": "s", "type": "nominal"}}
  }
]
}
